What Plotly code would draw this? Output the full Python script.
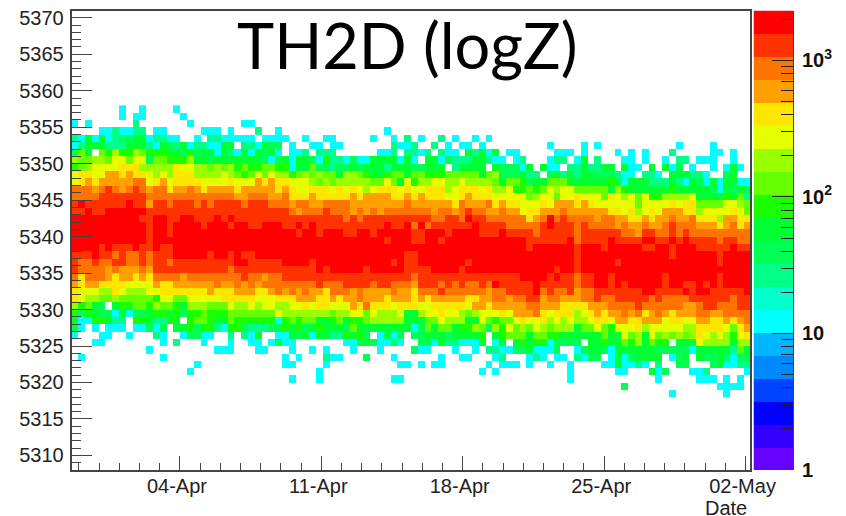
import pandas as pd
import plotly.graph_objects as go

W, H = 846, 516
PX_L, PX_R, PX_T, PX_B = 71.5, 750.0, 10.5, 470.0

# Colour level (base-20 digit, "." = empty) of every cell.
# Each row is split in three runs: columns 0-31, 32-65 and 66-99.
row_values = list(range(5357, 5317, -1))
rows_left = [
    ".......6..6....6",
    ".......6.66.....6",
    "6.6......8.......6.......66",
    "...." "66" "8" "66" "88" "." "66" "....." "666" "." "6" "..." "8" ".." "6" ".",
    "86a6a68" "99" "aa" "6" "88" "66" ".." "6" "." "88" "6" "6666" "." "6666",
    "68aaa" "888" "aaa" "8" "6" "a" "9" "8" "a" "6" "88" "66" "aa" "." "88" "6" "a" "99" ".",
    "9ca.cbdbbdcbbbaa9b9aa6a86a6a9a6.",
    "dccddceec" "ee" "9" "cc" "bbb" "d" "aa" "9" "aaaaaaa" "9" "6" "9" "a",
    "bcd" "eeee" "fff" "ddddd" "f" "ee" "dd" "c" "d" "c" "d" "b" "c" "bb" "cc" "bb",
    "eff" "ee" "gg" "f" "g" "ff" "e" "d" "e" "d" "fff" "dddd" "e" "d" "c" "b" "c" "e" "c" "e" "dd",
    "efgf" "gggg" "g" "hh" "e" "f" "g" "e" "ffff" "eeee" "f" "eee" "g" "f" "g" "ff",
    "hhh" "g" "h" "i" "h" "g" "h" "i" "h" "g" "hh" "f" "gg" "h" "g" "f" "gggg" "f" "ggggg" "f" "g",
    "hhhh" "iiiiiii" "hhhhhhhhhhhhh" "gg" "hhh" "gg" "h",
    "ij" "iiiiii" "j" "ii" "g" "ii" "h" "iii" "h" "i" "h" "iiii" "h" "iii" "hhh",
    "ii" "j" "ii" "jjjjjj" "iiiiiiiiiiiiiiiiiiiii",
    "jjjjjjjjjj" "ii" "jj" "ii" "jj" "iii" "j" "i" "j" "iiiiiiii",
    "jjjjjjjjjjj" "i" "jj" "i" "jjjj" "i" "jjj" "i" "jj" "ii" "jjj" "i",
    "jjjjjjjjjjj" "i" "jj" "i" "jjjjjjjjjjjjjjjjj",
    "jjjjjjjjjjj" "i" "jjjjjjjjjjjjjjjjjjjj",
    "jjjj" "i" "j" "iii" "j" "ii" "j" "ii" "jjjjjjjjjjjjjjjjj",
    "iii" "j" "ii" "h" "i" "hh" "i" "h" "iii" "jjjjj" "i" "jj" "i" "j" "ii" "jjjjj",
    "i" "hh" "i" "hh" "ii" "hh" "i" "h" "ii" "h" "iiiiiiiii" "jj" "iiiii" "j",
    "i" "hhhh" "g" "h" "ggg" "h" "g" "iiiiiiiiiii" "h" "iiiiiiii",
    "h" "f" "hhh" "g" "f" "gg" "f" "g" "f" "hhhh" "g" "hhhhhhhh" "i" "hh" "g" "hh" "i",
    "g" "f" "gg" "ffff" "eee" "e" "g" "ff" "gggggg" "h" "gg" "h" "g" "h" "g" "hhhh",
    "f" "eee" "dd" "f" "e" "ddd" "ee" "fffffff" "g" "fff" "ggg" "ff" "g" "h" "g",
    "f" "e" "dd" "cc" "d" "ccccc" "b" "ee" "cc" "eeeee" "fffff" "eee" "ff",
    "dbca9.a" "bb" "cc" "b" "d" "cc" "b" "a" "ddd" "cc" "c" "e" "dd" "e" "d" "ee" "dd",
    "b9ba" "99" "6" "a" "6" "99" "a" "bb" "a" "b" "9" "bb" "c" "bb" "b" "ccccccc" "e" "d",
    "a66bba88.bba88ba.bccbaacbbbbbb6b",
    "a6.6.666.66" "9" "6" "9" "." "aa" "b" "9" "bb" "8" "6" "bb" "9" "888" "99" "b",
    "6" "..." "66" ".." "6" "..." "8" "6" ".." "6" "99" "66" ".." "8" "." "8" "6" "a" ".." "66",
    "...66" "........" "6" "." "8" "..." "6" "..." "6" ".." "66" "." "6" "9" "6",
    "...........6.........666...66...",
    ".6...........6.................6",
    "..................6............6",
    ".................6",
    "",
    "",
    "",
]
rows_mid = [
    "",
    "",
    "",
    "..............6",
    "..6..66.....6..6.8.6..8.6..6.6....",
    "6..66.66.......8668..8.6.66.6.....",
    "668" "." "888" "......" "66" "8" "." "88" "6" "8" "." "8" "66" "." "a" "8" "a" "6" "a" "." "66",
    "6" "aa" "9" "6" "b" "88" "6" "9" "66" "aaaa" "6" "a" "6" "." "aa" "6" "9" "888" "aa" "8" "66" "." "6",
    "6" "aa" "c" "99" "8" "99" "a" "9" "a" "aa" "8" "aaa" "99" "aaa" "." "8" "aaaa" "." "a" "999",
    "bc" "dcd" "cc" "a" "dd" "c" "b" "aa" "b" "cc" "a" "cc" "bbb" "c" "ccc" "c" "a" "c" "d" "999",
    "eee" "d" "c" "d" "c" "ddddd" "cc" "e" "c" "a" "e" "b" "dd" "ee" "dd" "e" "dddd" "c" "a" "cc",
    "f" "ee" "fff" "e" "f" "e" "f" "e" "d" "e" "fff" "e" "f" "ee" "fff" "d" "e" "fff" "e" "f" "dd" "e" "b",
    "fff" "g" "fffff" "g" "f" "gggg" "ff" "g" "f" "g" "fff" "ee" "f" "g" "fff" "eeee",
    "g" "hh" "gg" "hhhh" "gggggggg" "h" "gggggg" "f" "h" "ggg" "h" "f" "g" "ff",
    "h" "g" "hhh" "i" "hhh" "g" "h" "g" "h" "g" "hhhhhhh" "g" "hh" "g" "h" "i" "hh" "gg" "h" "gg",
    "iiiiiiii" "h" "i" "h" "iiiiiiiiii" "hh" "ii" "h" "j" "ii" "hhhhh",
    "ijij" "iiiiiiiiii" "j" "ii" "j" "h" "j" "h" "iiiiii" "j" "iiii" "hh",
    "j" "i" "jj" "i" "jjj" "ii" "jj" "i" "jjjjj" "ii" "jjj" "i" "jjjj" "iii" "j" "ii",
    "jjjjjjjjjjjjjj" "i" "jjj" "ii" "jj" "i" "jjjjjjjjjjj",
    "jjjjjjjjjjjjjjjjjjjjjjjjjjjjjjjjjj",
    "jjjjjjjjjjjjjjjjj" "ii" "jjjjjjjjjjjjjjj",
    "jjj" "i" "jjjjjjjjjjj" "i" "j" "ii" "jjjjjjj" "i" "jjjjjjj",
    "iiii" "j" "i" "jjjjj" "i" "jjjjj" "iiii" "jjjj" "i" "jjjjjjjj",
    "iiiiiiiiiiiiiiiiii" "h" "iiiiiiiiiiiiiii",
    "hhhh" "i" "hhh" "iiii" "h" "ii" "hhh" "g" "iii" "h" "i" "h" "i" "hh" "i" "h" "j" "iii",
    "hgh" "gg" "f" "hhh" "g" "h" "gggg" "h" "gg" "f" "hhh" "i" "hhhhhh" "g" "hh" "ii",
    "f" "ggg" "ff" "g" "f" "gg" "h" "ggg" "f" "ggg" "f" "g" "f" "ggggg" "ff" "gg" "hh" "g" "h",
    "ee" "f" "e" "ff" "eee" "g" "f" "h" "fff" "e" "fff" "ee" "fffff" "e" "gg" "f" "gggg",
    "dddddd" "c" "dd" "ee" "c" "e" "ddd" "e" "aa" "d" "ee" "f" "ee" "d" "c" "d" "eee" "f" "e" "g",
    "cbcc" "aa" "b" "c" "a" "bb" "c" "ddddd" "aaa" "cc" "e" "ddd" "aa" "e" "c" "b" "cc" "e",
    "ab9ab" "aaa" "9" "c" "aaaaaaaa" "6" "9" "c" "a" "cc" "a" "bb" "d" "c" "9" "d" "b" "e" "c",
    "a9a6" "aa" "88" "b" "a" "b" "9" "." "6" "9" "6" "9" "." "99" "aaa" "9" "aaaa" "b" "." "a" "b" "cc",
    "6" "......." "66" "9" "a" "9" "66" "9" "6" ".." "99" "6" "a" "88" "666" "a" "." "6" "a" "." "a",
    "6..6.6...6...6....966...6..6.88669",
    ".6...866...9...6......6..66...68..",
    "6....6..........66.6.66......6.666",
    "....6.......................6.6...",
    "6...6..........66",
    "",
    "",
]
rows_right = [
    "",
    "",
    "",
    "",
    "",
    "....6....6.6...........6....6.....",
    ".....666.6....6.6.6...8.....66.6..",
    "8...688.6a.8...66.6..6.88.666..6..",
    "6a.a66.88a88aa.a66.a.a69.6..6.6a6.",
    "a88.9a8a8aa" "999" "8" "66" "." "88" "6" "." "aaa" "88" "6" ".." "9" "a" "..",
    "b9aa" "ccc" "aaaa" "aa" "b" "9" "6" "aaa" "888" "a" "8" "6" "a" "9" "6" "a" "6" "aa" "66",
    "bcbc" "e" "d" "ee" "ccccc" "a" "d" "b" "aaaaaa" "b" "aaaaa" "9" "6" "a" "9" "a" "9",
    "ecd" "ee" "c" "ee" "f" "eee" "c" "f" "e" "d" "e" "c" "e" "bb" "dddd" "e" "aaa" "a" "b" "a" "c" "8",
    "eee" "f" "e" "ggg" "f" "g" "f" "eeeeee" "c" "eeee" "f" "e" "ff" "cccc" "ee" "d" "c",
    "e" "ff" "ggg" "h" "gggggg" "ff" "e" "f" "d" "e" "f" "e" "ggg" "ff" "d" "eeee" "f" "e" "c",
    "hfgh" "j" "h" "i" "hhhh" "g" "hh" "gg" "ff" "g" "f" "gg" "h" "gg" "h" "fff" "d" "gg" "ff",
    "hhh" "i" "j" "iii" "h" "i" "hhhh" "g" "h" "gg" "h" "gg" "h" "i" "hhh" "ggg" "f" "g" "h" "f" "g",
    "ii" "h" "iiiii" "h" "iiiiii" "hh" "g" "ii" "hh" "i" "h" "i" "hhhhhhhhh",
    "j" "iiiiii" "j" "h" "iiii" "j" "iiii" "jj" "ii" "j" "i" "j" "iiii" "h" "ii" "hh",
    "j" "i" "jjjjjj" "i" "jjj" "i" "jjjjj" "ii" "jj" "i" "jjj" "iiiii" "j" "ii",
    "jjjjjjjj" "i" "jjjjjjjjjjjjj" "i" "jjjjjj" "i" "jjjj",
    "jjjjjjjj" "i" "jjjjj" "i" "jjjjjjjjjjjjjj" "i" "jjjj",
    "jjjjj" "i" "jj" "i" "jjjjjjjjjjjjjjjjjjjjjjjjj",
    "jjjj" "i" "j" "ii" "h" "ii" "jj" "i" "jjjjjjj" "i" "jjjjjjj" "i" "jjjj",
    "ii" "j" "iiiii" "h" "ii" "jj" "i" "j" "i" "jjjjj" "i" "jj" "ii" "j" "i" "j" "i" "jjjj",
    "ii" "j" "h" "i" "hh" "i" "g" "hh" "iiiiiii" "jj" "iiii" "j" "i" "jj" "iiiii" "j",
    "h" "ii" "g" "hh" "ggg" "hh" "i" "hh" "iiiii" "h" "i" "hhhh" "iiiiii" "h" "ii",
    "g" "hh" "ggg" "ffff" "ggg" "hhhh" "i" "hhhhhh" "gg" "h" "ii" "hhh" "ii",
    "gg" "h" "f" "e" "fff" "d" "e" "f" "g" "f" "gg" "h" "g" "h" "f" "g" "h" "g" "f" "ggg" "hh" "gg" "hhhh",
    "f" "ee" "f" "d" "e" "d" "e" "dd" "e" "ff" "e" "gg" "ff" "ggg" "e" "ff" "ee" "gg" "ff" "g" "f" "g" "h",
    "dcedc" "ddd" "a" "cc" "e" "c" "b" "eee" "f" "d" "eeeee" "dd" "ffff" "e" "c" "f" "g",
    "ca" "cc" "bb" "aaaaaa" "c" "aa" "e" "c" "d" "a" "e" "c" "d" "c" "d" "c" "d" "f" "e" "d" "e" "d" "b" "e" "f",
    "b" "a" "bb" "6" "9999" "." "aa" "b" "aa" "c" "b" "d" "a" "c" "bb" "." "aaa" "e" "dddd" "a" "dd",
    "9a" "666" "9" ".." "6" "9" "aa" "9" "6" "aaaaaa" "9" "9999" "6" "aaaaa" "8" "c" "a",
    ".686.66.8699.6a69aaaa.69a.a99a9699",
    ".6..6..6....66a6686.8..99...9a6688",
    ".......6......66...a69...668.....6",
    ".......6............6.....666.6.6.",
    "...............9.............6666.",
    "......................6.......6...",
]

# ROOT rainbow palette, bottom to top of the colour bar
palette = ["#6600ff", "#3300ff", "#0000ff", "#0044ff", "#0088ff", "#00b4ff", "#00ffff",
           "#00ffcc", "#00ff88", "#00ff55", "#00ff33", "#19ff00", "#66ff00", "#99ff00",
           "#e6ff00", "#ffe600", "#ffa000", "#ff7300", "#ff3300", "#ff0000"]
LOG_MAX = 3.365
STEP = LOG_MAX / len(palette)
scale = []
for i, c in enumerate(palette):
    scale += [[i / len(palette), c], [(i + 1) / len(palette), c]]


def level_value(ch):
    return None if ch == "." else (int(ch, 20) + 0.5) * STEP


n_cols = 100
start = pd.Timestamp("2011-04-04") - pd.Timedelta(days=5.37)
bin_days = 0.3359
x_centres = [start + pd.Timedelta(days=bin_days * (i + 0.5)) for i in range(n_cols)]
x_lo = start
x_hi = start + pd.Timedelta(days=bin_days * n_cols)

z = []
y_centres = []
for v, a, b, c in zip(row_values, rows_left, rows_mid, rows_right):
    s = a.ljust(32, ".")[:32] + b.ljust(34, ".")[:34] + c.ljust(34, ".")[:34]
    z.append([level_value(ch) for ch in s])
    y_centres.append(v + 0.5)

dom_x = [PX_L / W, PX_R / W]
dom_y = [1 - PX_B / H, 1 - PX_T / H]
AXC = "#444444"
TXT = "#222222"
FONT = "Liberation Sans"

fig = go.Figure()
fig.add_trace(go.Heatmap(x=x_centres, y=y_centres, z=z, zmin=0, zmax=LOG_MAX, colorscale=scale,
                         showscale=False, hoverongaps=False, xaxis="x", yaxis="y"))
bar_levels = [(i + 0.5) * STEP for i in range(len(palette))]
fig.add_trace(go.Heatmap(x=[0], y=bar_levels, z=[[v] for v in bar_levels], zmin=0, zmax=LOG_MAX,
                         colorscale=scale, showscale=False, xaxis="x2", yaxis="y2"))

log_major = [0, 1, 2, 3]
log_text = ["1", "10", "10<sup>2</sup>", "10<sup>3</sup>"]
log_minor = [0.30103, 0.47712, 0.60206, 0.69897, 0.77815, 0.84510, 0.90309, 0.95424,
             1.30103, 1.47712, 1.60206, 1.69897, 1.77815, 1.84510, 1.90309, 1.95424,
             2.30103, 2.47712, 2.60206, 2.69897, 2.77815, 2.84510, 2.90309, 2.95424, 3.30103]

fig.update_layout(
    width=W, height=H, autosize=False, margin=dict(l=0, r=0, t=0, b=0),
    paper_bgcolor="white", plot_bgcolor="white", showlegend=False,
    font=dict(family=FONT, size=20, color=TXT),
    xaxis=dict(domain=dom_x, type="date", range=[x_lo, x_hi], tick0="2011-04-04", dtick=7 * 86400000,
               tickformat="%d-%b", ticks="inside", ticklen=14, tickwidth=1, tickcolor=AXC, automargin=False,
               minor=dict(dtick=86400000, tick0="2011-04-04", ticks="inside", ticklen=7,
                          tickwidth=1, tickcolor=AXC, showgrid=False),
               showgrid=False, zeroline=False, showline=True, linecolor=AXC, linewidth=1.5, mirror=True,
               ticklabelshift=-3, ticklabelstandoff=-3, tickfont=dict(size=20, color=TXT, family=FONT)),
    yaxis=dict(domain=dom_y, range=[5308, 5371], tick0=5310, dtick=5, ticks="inside", ticklen=21,
               tickwidth=1, tickcolor=AXC, automargin=False,
               minor=dict(dtick=1, ticks="inside", ticklen=10, tickwidth=1, tickcolor=AXC, showgrid=False),
               showgrid=False, zeroline=False, showline=True, linecolor=AXC, linewidth=1.5, mirror=True,
               tickformat="d", ticklabelstandoff=2, tickfont=dict(size=20, color=TXT, family=FONT)),
    xaxis2=dict(domain=[753.5 / W, 793 / W], range=[-0.5, 0.5], showticklabels=False, ticks="",
                showgrid=False, zeroline=False, showline=False, automargin=False),
    yaxis2=dict(domain=dom_y, anchor="x2", side="right", range=[0, LOG_MAX], tickmode="array",
                tickvals=log_major, ticktext=log_text, ticks="inside", ticklen=21, tickwidth=1,
                tickcolor="#222222", automargin=False, ticklabelstandoff=4,
                minor=dict(tickmode="array", tickvals=log_minor, ticks="inside", ticklen=12,
                           tickwidth=1, tickcolor="#222222", showgrid=False),
                showgrid=False, zeroline=False, showline=True, linecolor=AXC, linewidth=1,
                tickfont=dict(size=20, color="#111111", family=FONT, weight="bold")),
    annotations=[
        dict(text="TH2D (logZ)", x=407 / W, y=1 - 44 / H, xref="paper", yref="paper", showarrow=False,
             xanchor="center", yanchor="middle", font=dict(family="Lato", size=63, color="black")),
        dict(text="Date", x=748 / W, y=1 - 507.5 / H, xref="paper", yref="paper", showarrow=False,
             xanchor="right", yanchor="middle", borderpad=0, height=17,
             font=dict(family=FONT, size=20, color=TXT)),
    ],
)

fig.write_html("out.html", config={"displayModeBar": False},
               post_script="document.body.style.margin='0';document.body.style.overflow='hidden';")
